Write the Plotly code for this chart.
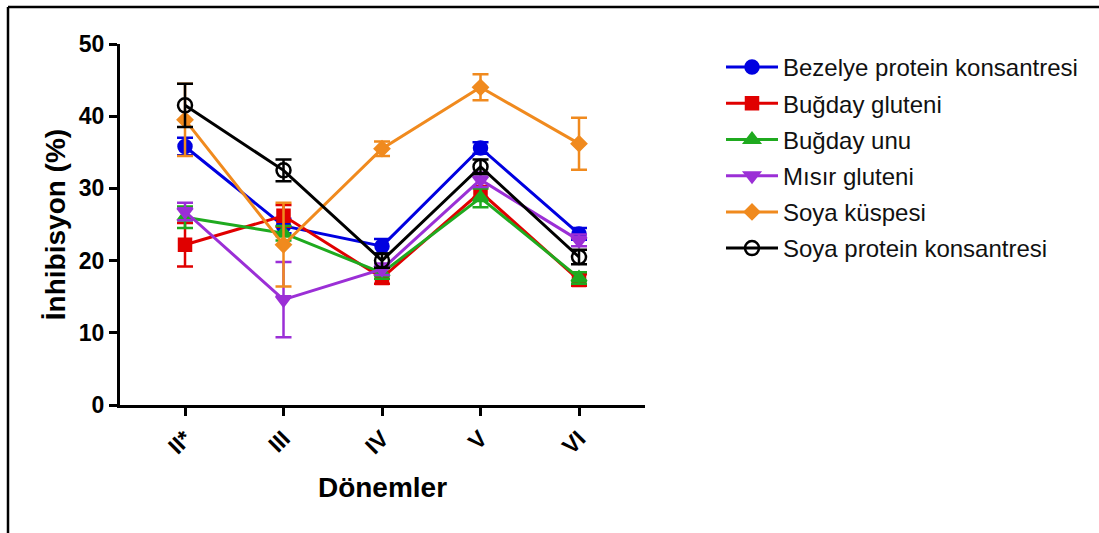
import plotly.graph_objects as go

periods = ["II*", "III", "IV", "V", "VI"]

series_names = ["Bezelye protein konsantresi", "Buğday gluteni", "Buğday unu",
                "Mısır gluteni", "Soya küspesi", "Soya protein konsantresi"]

bezelye = [35.8, 24.8, 22.0, 35.6, 23.7]
bezelye_err = [1.2, 1.0, 1.0, 0.8, 0.8]
bugday_gluteni = [22.2, 26.2, 17.6, 29.5, 17.3]
bugday_gluteni_err = [3.0, 1.5, 0.8, 0.8, 0.8]
bugday_unu = [26.0, 23.8, 18.3, 28.7, 17.6]
bugday_unu_err = [1.5, 1.0, 0.8, 1.3, 0.8]
misir = [26.8, 14.6, 18.8, 31.2, 22.8]
misir_err = [1.2, 5.2, 0.8, 1.0, 0.8]
soya_kuspesi = [39.5, 22.2, 35.5, 44.0, 36.2]
soya_kuspesi_err = [5.0, 5.8, 1.0, 1.8, 3.6]
soya_protein = [41.5, 32.5, 20.0, 33.0, 20.5]
soya_protein_err = [3.0, 1.5, 1.0, 1.0, 1.0]

values = [bezelye, bugday_gluteni, bugday_unu, misir, soya_kuspesi, soya_protein]
errors = [bezelye_err, bugday_gluteni_err, bugday_unu_err, misir_err, soya_kuspesi_err, soya_protein_err]
colors = ["#0000e0", "#e00000", "#1faa1f", "#9b2fd6", "#f08a1e", "#000000"]
symbols = ["circle", "square", "triangle-up", "triangle-down", "diamond", "circle-open"]
sizes = [13, 12, 13, 13, 11, 14]

FONT = "Arial, Liberation Sans, sans-serif"

fig = go.Figure()
for i in range(len(series_names)):
    fig.add_trace(go.Scatter(
        x=periods, y=values[i], name=series_names[i], legendgroup=f"g{i}",
        mode="lines+markers",
        line=dict(color=colors[i], width=3),
        marker=dict(symbol=symbols[i], size=sizes[i], color=colors[i],
                    line=dict(color=colors[i], width=2.5)),
        error_y=dict(type="data", array=errors[i], visible=True,
                     color=colors[i], thickness=2.5, width=8),
    ))

W, H = 1099, 533
L, R, T, B = 120, 454, 44, 128
pw, ph = W - L - R, H - T - B

def px_x(x):
    return (x - L) / pw

def px_y(y):
    return 1 - (y - T) / ph

fig.update_layout(
    width=W, height=H,
    margin=dict(l=L, r=R, t=T, b=B),
    paper_bgcolor="white", plot_bgcolor="white",
    font=dict(family=FONT, color="black"),
    showlegend=True,
    legend=dict(x=px_x(721), y=px_y(45), xanchor="left", yanchor="top",
                font=dict(size=24, family=FONT, color="#111111"),
                tracegroupgap=2, itemwidth=52, bgcolor="rgba(0,0,0,0)"),
    xaxis=dict(range=[-0.66, 4.67], showline=True, linecolor="black", linewidth=3,
               ticks="outside", ticklen=8, tickwidth=3, tickcolor="black",
               tickangle=-45, showgrid=False, zeroline=False,
               tickfont=dict(size=23, family=FONT, weight="bold"),
               title=dict(text="<b>Dönemler</b>", font=dict(size=28, family=FONT), standoff=20)),
    yaxis=dict(range=[0, 50], showline=True, linecolor="black", linewidth=3,
               ticks="outside", ticklen=8, tickwidth=3, tickcolor="black",
               tickvals=[0, 10, 20, 30, 40, 50], showgrid=False, zeroline=False,
               tickfont=dict(size=23, family=FONT, weight="bold"),
               title=dict(text="<b>İnhibisyon (%)</b>", font=dict(size=28, family=FONT), standoff=6)),
    shapes=[
        dict(type="line", xref="paper", yref="paper", x0=px_x(8), x1=px_x(1099),
             y0=px_y(7), y1=px_y(7), line=dict(color="black", width=2.5)),
        dict(type="line", xref="paper", yref="paper", x0=px_x(8), x1=px_x(8),
             y0=px_y(7), y1=px_y(533), line=dict(color="black", width=2.5)),
    ],
)

fig.write_html("out.html")
